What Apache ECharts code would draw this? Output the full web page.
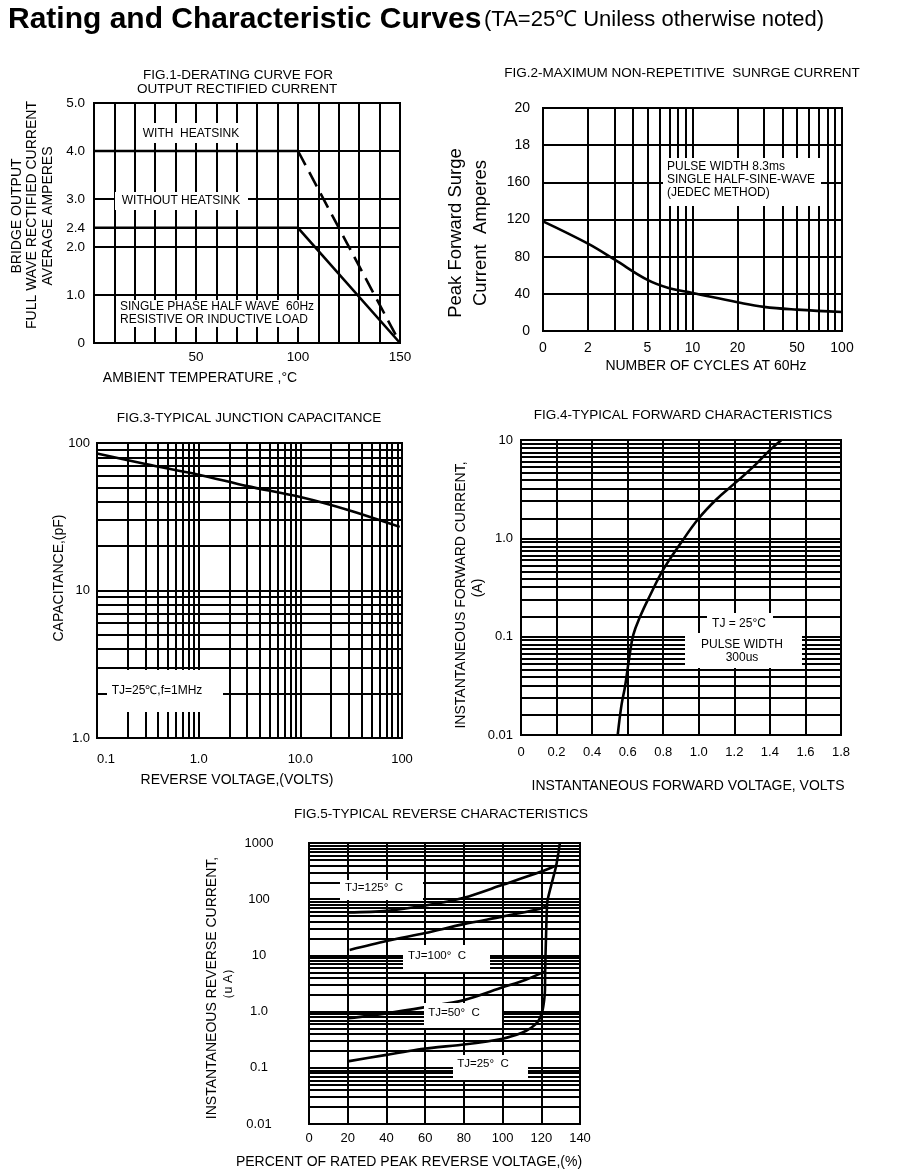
<!DOCTYPE html>
<html><head><meta charset="utf-8">
<script src="https://cdn.jsdelivr.net/npm/echarts@6/dist/echarts.min.js"></script>
<style>html,body{margin:0;padding:0;background:#fff}#c{width:900px;height:1174px}</style>
</head><body><div id="c"></div>
<script>
// ---------------- DATA ----------------
// Fig.1 derating curve
const fig1Temp = [0, 100, 150];
const fig1WithHeatsink = [4.0, 4.0, 0];
const fig1WithoutHeatsink = [2.4, 2.4, 0];
const fig1YTicks = [0, 1, 2, 2.4, 3, 4, 5];
const fig1YLabels = ['0', '1.0', '2.0', '2.4', '3.0', '4.0', '5.0'];
const fig1XLabelValues = [50, 100, 150];
const fig1XLabels = ['50', '100', '150'];

// Fig.2 surge current
const fig2Cycles = [1, 2, 3, 5, 7, 10, 20, 30, 50, 100];
const fig2Current = [118, 94, 77, 55, 46, 41, 31, 26, 23, 20.5];
const fig2XLabelValues = [1, 2, 5, 10, 20, 50, 100];
const fig2XLabels = ['0', '2', '5', '10', '20', '50', '100'];
const fig2YValues = [0, 40, 80, 120, 160, 200, 240];
const fig2YLabels = ['0', '40', '80', '120', '160', '18', '20'];

// Fig.3 junction capacitance
const fig3Voltage = [0.1, 0.3, 1, 3, 10, 30, 95];
const fig3Capacitance = [85, 72, 61, 51, 43, 35, 27];
const fig3XLabelValues = [0.1, 1, 10, 100];
const fig3XLabels = ['0.1', '1.0', '10.0', '100'];
const fig3YLabelValues = [1, 10, 100];
const fig3YLabels = ['1.0', '10', '100'];

// Fig.4 forward characteristics
const fig4Voltage = [0.544, 0.565, 0.585, 0.61, 0.632, 0.67, 0.72, 0.8, 0.9, 1.0, 1.1, 1.2, 1.3, 1.4, 1.465];
const fig4Current = [0.01, 0.02, 0.031, 0.063, 0.105, 0.16, 0.25, 0.48, 0.9, 1.6, 2.5, 3.6, 5.2, 7.9, 10];
const fig4YLabelValues = [0.01, 0.1, 1, 10];
const fig4YLabels = ['0.01', '0.1', '1.0', '10'];
const fig4GridMultiples = [1, 1.6, 2.4, 3.2, 3.9, 4.6, 5.3, 6, 6.7, 7.5, 8.3, 9.2];

// Fig.5 reverse characteristics
const fig5Tj125X = [20, 40, 60, 80, 100, 120, 127];
const fig5Tj125Y = [58, 62, 77, 106, 180, 310, 390];
const fig5Tj100X = [21, 40, 60, 80, 100, 119, 123];
const fig5Tj100Y = [12.5, 18, 25, 36, 49, 67, 74];
const fig5Tj50X = [20, 40, 60, 80, 100, 112, 122];
const fig5Tj50Y = [0.76, 0.93, 1.2, 1.6, 2.7, 3.7, 5.2];
const fig5Tj25X = [20, 40, 60, 80, 100, 110, 115, 118.5, 120.5, 121.5, 121.9, 122, 122.4, 123.1, 125.4, 127.6, 128.8, 129.6];
const fig5Tj25Y = [0.13, 0.17, 0.22, 0.26, 0.33, 0.42, 0.52, 0.68, 1.0, 1.6, 2.4, 5.5, 18.8, 90, 192, 378, 656, 1000];
const fig5YLabelValues = [0.01, 0.1, 1, 10, 100, 1000];
const fig5YLabels = ['0.01', '0.1', '1.0', '10', '100', '1000'];

const logMultiples = [1, 2, 3, 4, 5, 6, 7, 8, 9];

// ---------------- HELPERS ----------------
const FONT = '"Liberation Sans", Arial, Helvetica, sans-serif';
const zip = (xs, ys) => xs.map((x, i) => [x, ys[i]]);
function decadeTicks(lo, hi, multiples) {
  const out = [];
  for (let k = Math.floor(Math.log10(lo)); k <= Math.ceil(Math.log10(hi)); k++) {
    multiples.forEach(m => {
      const v = Number((m * Math.pow(10, k)).toPrecision(6));
      if (v >= lo * 0.999999 && v <= hi * 1.000001) out.push(v);
    });
  }
  return out;
}
function labelFrom(values, labels) {
  return v => {
    const i = values.findIndex(t => Math.abs(t - v) <= 1e-6 * Math.max(Math.abs(t), 1e-12));
    return i < 0 ? '' : labels[i];
  };
}
const gridLine = { show: true, lineStyle: { color: '#000', width: 2 } };
const lbl = (extra) => Object.assign({ color: '#000', fontFamily: FONT, fontSize: 13 }, extra);
const noLine = { show: false };

function lineSeries(xi, data, extra) {
  return Object.assign({
    type: 'line', xAxisIndex: xi, yAxisIndex: xi, data: data,
    symbol: 'none', silent: true, clip: true,
    lineStyle: { color: '#000', width: 2.6 }
  }, extra || {});
}

function T(text, x, y, o) {
  o = o || {};
  const align = o.align || 'center';
  return {
    type: 'text', x: x, y: y, z: 100, rotation: o.rot || 0, silent: true,
    style: {
      text: text, fill: '#000', fontSize: o.size || 12, fontFamily: FONT,
      fontWeight: o.weight || 'normal',
      align: align, textAlign: align, verticalAlign: 'middle', textVerticalAlign: 'middle'
    }
  };
}
function M(x, y, w, h) {
  return { type: 'rect', z: 90, silent: true, shape: { x: x, y: y, width: w, height: h }, style: { fill: '#fff' } };
}
const ROT = Math.PI / 2;
const TS = 13.5;  // figure title size
const NS = 14;    // axis name size

const gridBase = { show: true, borderColor: '#000', borderWidth: 2, backgroundColor: '#fff', containLabel: false, outerBoundsMode: 'none' };

const option = {
  animation: false,
  backgroundColor: '#fff',
  textStyle: { fontFamily: FONT },
  grid: [
    Object.assign({ left: 94, top: 103, width: 306, height: 240 }, gridBase),
    Object.assign({ left: 543, top: 108, width: 299, height: 223 }, gridBase),
    Object.assign({ left: 97, top: 443, width: 305, height: 295 }, gridBase),
    Object.assign({ left: 521, top: 440, width: 320, height: 295 }, gridBase),
    Object.assign({ left: 309, top: 843, width: 271, height: 281 }, gridBase)
  ],
  xAxis: [
    { gridIndex: 0, type: 'value', min: 0, max: 150, interval: 10,
      axisLine: noLine, axisTick: { show: false }, splitLine: gridLine,
      axisLabel: lbl({ margin: 7, fontSize: 13.5, formatter: labelFrom(fig1XLabelValues, fig1XLabels) }) },
    { gridIndex: 1, type: 'log', logBase: 10, min: 1, max: 100,
      axisLine: noLine, axisTick: { show: false, customValues: decadeTicks(1, 100, logMultiples) }, splitLine: gridLine,
      axisLabel: lbl({ fontSize: 14, margin: 10, customValues: fig2XLabelValues, formatter: labelFrom(fig2XLabelValues, fig2XLabels) }) },
    { gridIndex: 2, type: 'log', logBase: 10, min: 0.1, max: 100,
      axisLine: noLine, axisTick: { show: false, customValues: decadeTicks(0.1, 100, logMultiples) }, splitLine: gridLine,
      axisLabel: lbl({ margin: 15, alignMinLabel: 'left', customValues: fig3XLabelValues, formatter: labelFrom(fig3XLabelValues, fig3XLabels) }) },
    { gridIndex: 3, type: 'value', min: 0, max: 1.8, interval: 0.2,
      axisLine: noLine, axisTick: { show: false }, splitLine: gridLine,
      axisLabel: lbl({ margin: 11, formatter: v => (Math.abs(v) < 1e-9 ? '0' : v.toFixed(1)) }) },
    { gridIndex: 4, type: 'value', min: 0, max: 140, interval: 20,
      axisLine: noLine, axisTick: { show: false }, splitLine: gridLine,
      axisLabel: lbl({ margin: 8 }) }
  ],
  yAxis: [
    { gridIndex: 0, type: 'value', min: 0, max: 5,
      axisLine: noLine, axisTick: { show: false, customValues: fig1YTicks }, splitLine: gridLine,
      axisLabel: lbl({ margin: 9, fontSize: 13.5, customValues: fig1YTicks, formatter: labelFrom(fig1YTicks, fig1YLabels) }) },
    { gridIndex: 1, type: 'value', min: 0, max: 240, interval: 40,
      axisLine: noLine, axisTick: { show: false }, splitLine: gridLine,
      axisLabel: lbl({ fontSize: 14, margin: 13, formatter: labelFrom(fig2YValues, fig2YLabels) }) },
    { gridIndex: 2, type: 'log', logBase: 10, min: 1, max: 100,
      axisLine: noLine, axisTick: { show: false, customValues: decadeTicks(1, 100, logMultiples) }, splitLine: gridLine,
      axisLabel: lbl({ margin: 7, customValues: fig3YLabelValues, formatter: labelFrom(fig3YLabelValues, fig3YLabels) }) },
    { gridIndex: 3, type: 'log', logBase: 10, min: 0.01, max: 10,
      axisLine: noLine, axisTick: { show: false, customValues: decadeTicks(0.01, 10, fig4GridMultiples) }, splitLine: gridLine,
      axisLabel: lbl({ margin: 8, padding: [10, 0, 0, 0], customValues: fig4YLabelValues, formatter: labelFrom(fig4YLabelValues, fig4YLabels) }) },
    { gridIndex: 4, type: 'log', logBase: 10, min: 0.01, max: 1000,
      axisLine: noLine, axisTick: { show: false, customValues: decadeTicks(0.01, 1000, logMultiples) }, splitLine: gridLine,
      axisLabel: lbl({ margin: 50, align: 'center', padding: [8, 0, 0, 0], customValues: fig5YLabelValues, formatter: labelFrom(fig5YLabelValues, fig5YLabels) }) }
  ],
  series: [
    lineSeries(0, zip(fig1Temp, fig1WithoutHeatsink)),
    lineSeries(0, zip(fig1Temp.slice(0, 2), fig1WithHeatsink.slice(0, 2))),
    lineSeries(0, zip(fig1Temp.slice(1), fig1WithHeatsink.slice(1)), { lineStyle: { color: '#000', width: 2.6, type: [16, 8] } }),
    lineSeries(1, zip(fig2Cycles, fig2Current), { smooth: 0.4 }),
    lineSeries(2, zip(fig3Voltage, fig3Capacitance), { smooth: 0.3 }),
    lineSeries(3, zip(fig4Voltage, fig4Current), { smooth: 0.4 }),
    lineSeries(4, zip(fig5Tj125X, fig5Tj125Y), { smooth: 0.3 }),
    lineSeries(4, zip(fig5Tj100X, fig5Tj100Y), { smooth: 0.3 }),
    lineSeries(4, zip(fig5Tj50X, fig5Tj50Y), { smooth: 0.3 }),
    lineSeries(4, zip(fig5Tj25X, fig5Tj25Y), { smooth: 0.15 })
  ],
  graphic: { elements: [
    // page title
    T('Rating and Characteristic Curves', 8, 19.5, { size: 30, weight: 'bold', align: 'left' }),
    T('(TA=25\u2103 Uniless otherwise noted)', 484, 20, { size: 22, align: 'left' }),

    // Fig.1
    T('FIG.1-DERATING CURVE FOR', 238, 75, { size: TS }),
    T('OUTPUT RECTIFIED CURRENT', 237, 89, { size: TS }),
    T('BRIDGE OUTPUT', 17, 216, { size: NS, rot: ROT }),
    T('FULL WAVE RECTIFIED CURRENT', 32, 215, { size: NS, rot: ROT }),
    T('AVERAGE AMPERES', 48, 216, { size: NS, rot: ROT }),
    T('AMBIENT TEMPERATURE ,\u00b0C', 200, 378, { size: NS }),
    M(140, 123, 103, 20), T('WITH  HEATSINK', 191, 134),
    M(115, 192, 133, 18), T('WITHOUT HEATSINK', 181, 201),
    M(117, 300, 200, 27),
    T('SINGLE PHASE HALF WAVE  60Hz', 120, 307, { align: 'left' }),
    T('RESISTIVE OR INDUCTIVE LOAD', 120, 320, { align: 'left' }),

    // Fig.2
    T('FIG.2-MAXIMUM NON-REPETITIVE  SUNRGE CURRENT', 682, 73, { size: TS }),
    T('Peak Forward Surge', 456, 233, { size: 18.5, rot: ROT }),
    T('Current  Amperes', 481, 233, { size: 18.5, rot: ROT }),
    T('NUMBER OF CYCLES AT 60Hz', 706, 366, { size: NS }),
    M(663, 158, 158, 48),
    T('PULSE WIDTH 8.3ms', 667, 167, { size: 12, align: 'left' }),
    T('SINGLE HALF-SINE-WAVE', 667, 180, { size: 12, align: 'left' }),
    T('(JEDEC METHOD)', 667, 193, { size: 12, align: 'left' }),

    // Fig.3
    T('FIG.3-TYPICAL JUNCTION CAPACITANCE', 249, 418, { size: TS }),
    T('CAPACITANCE,(pF)', 59, 578, { size: NS, rot: ROT }),
    T('REVERSE VOLTAGE,(VOLTS)', 237, 780, { size: NS }),
    M(107, 670, 116, 42), T('TJ=25\u2103,f=1MHz', 157, 691, { size: 12 }),

    // Fig.4
    T('FIG.4-TYPICAL FORWARD CHARACTERISTICS', 683, 415, { size: TS }),
    T('INSTANTANEOUS FORWARD CURRENT,', 461, 595, { size: NS, rot: ROT }),
    T('(A)', 478, 588, { size: NS, rot: ROT }),
    T('INSTANTANEOUS FORWARD VOLTAGE, VOLTS', 688, 786, { size: NS }),
    M(707, 613, 66, 21), M(685, 633, 117, 35),
    T('TJ = 25\u00b0C', 739, 624, { size: 12 }),
    T('PULSE WIDTH', 742, 645, { size: 12 }),
    T('300us', 742, 658, { size: 12 }),

    // Fig.5
    T('FIG.5-TYPICAL REVERSE CHARACTERISTICS', 441, 814, { size: TS }),
    T('INSTANTANEOUS REVERSE CURRENT,', 212, 988, { size: NS, rot: ROT }),
    T('\uff08u A\uff09', 229, 984, { size: 12.5, rot: ROT }),
    T('PERCENT OF RATED PEAK REVERSE VOLTAGE,(%)', 409, 1162, { size: NS }),
    M(340, 880, 83, 20), T('TJ=125\u00b0  C', 374, 888, { size: 11.5 }),
    M(403, 945, 87, 27), T('TJ=100\u00b0  C', 437, 956, { size: 11.5 }),
    M(424, 1003, 78, 25), T('TJ=50\u00b0  C', 454, 1013, { size: 11.5 }),
    M(453, 1055, 75, 25), T('TJ=25\u00b0  C', 483, 1064, { size: 11.5 })
  ] }
};

const chart = echarts.init(document.getElementById('c'), null, { renderer: 'canvas', width: 900, height: 1174 });
chart.setOption(option);
</script>
</body></html>
